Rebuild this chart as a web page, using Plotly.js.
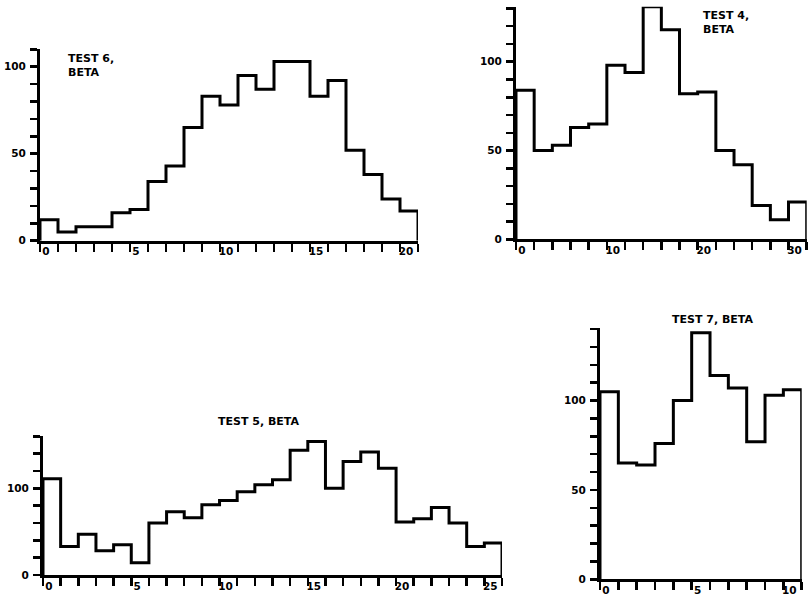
<!DOCTYPE html>
<html>
<head>
<meta charset="utf-8">
<script src="https://cdn.plot.ly/plotly-3.0.1.min.js"></script>
<style>html,body{margin:0;padding:0;background:#fff;}#chart{width:812px;height:599px;}</style>
</head>
<body>
<div id="chart"></div>
<script>
// ---- data ----
// TEST 6, BETA (bins of width 1, starting at 0)
const test6Bins = [0,1,2,3,4,5,6,7,8,9,10,11,12,13,14,15,16,17,18,19,20];
const test6Counts = [12,5,8,8,16,18,34,43,65,83,78,95,87,103,103,83,92,52,38,24,17];
// TEST 4, BETA (bins of width 2)
const test4Bins = [0,2,4,6,8,10,12,14,16,18,20,22,24,26,28,30];
const test4Counts = [84,50,53,63,65,98,94,131,118,82,83,50,42,19,11,21];
// TEST 5, BETA (bins of width 1)
const test5Bins = [0,1,2,3,4,5,6,7,8,9,10,11,12,13,14,15,16,17,18,19,20,21,22,23,24,25];
const test5Counts = [111,33,47,28,35,14,60,73,66,81,86,96,104,110,144,154,100,131,142,123,61,65,78,60,33,37];
// TEST 7, BETA (bins of width 1)
const test7Bins = [0,1,2,3,4,5,6,7,8,9,10];
const test7Counts = [105,65,64,76,100,138,114,107,77,103,106];

// tick labels
const test6XLabels = [0,5,10,15,20];
const test6YLabels = [0,50,100];
const test4XLabels = [0,10,20,30];
const test4YLabels = [0,50,100];
const test5XLabels = [0,5,10,15,20,25];
const test5YLabels = [0,100];
const test7XLabels = [0,5,10];
const test7YLabels = [0,50,100];

const titles = ["TEST 6,<br>BETA","TEST 4,<br>BETA","TEST 5, BETA","TEST 7, BETA"];

// ---- helpers ----
function stepTrace(bins, counts, xa, ya){
  const w = bins.length > 1 ? bins[1]-bins[0] : 1;
  const x = [bins[0]], y = [0];
  for (let i=0;i<bins.length;i++){ x.push(bins[i]); y.push(counts[i]); }
  const end = bins[bins.length-1] + w;
  x.push(end); y.push(counts[counts.length-1]);
  x.push(end); y.push(0);
  return {x:x, y:y, type:'scatter', mode:'lines', line:{shape:'hv', color:'#000', width:3},
          xaxis:xa, yaxis:ya, hoverinfo:'skip', showlegend:false};
}
function ticks(from, to, step, labels){
  const vals=[], text=[];
  for (let v=from; v<=to+1e-9; v+=step){ vals.push(v); text.push(labels.indexOf(v)>=0 ? String(v) : ''); }
  return {tickmode:'array', tickvals:vals, ticktext:text};
}
const W=812, H=599;
const font = {family:'DejaVu Sans, Arial, sans-serif', size:10.5, color:'#000', weight:'bold'};
function xAxis(px0, px1, range, t, anchor){
  return Object.assign({domain:[px0/W, px1/W], range:range, anchor:anchor, showline:true, linewidth:3, linecolor:'#000',
    ticks:'outside', ticklen:8, tickwidth:2.5, tickcolor:'#000', showgrid:false, zeroline:false,
    tickfont:font, ticklabelshift:6, ticklabelstandoff:-9, fixedrange:true}, t);
}
function yAxis(py0, py1, range, t, anchor){
  return Object.assign({domain:[1-py0/H, 1-py1/H], range:range, anchor:anchor, showline:true, linewidth:3, linecolor:'#000',
    ticks:'outside', ticklen:7, tickwidth:2.5, tickcolor:'#000', showgrid:false, zeroline:false,
    tickfont:font, ticklabelstandoff:2, fixedrange:true}, t);
}

const data = [
  stepTrace(test6Bins, test6Counts, 'x', 'y'),
  stepTrace(test4Bins, test4Counts, 'x2', 'y2'),
  stepTrace(test5Bins, test5Counts, 'x3', 'y3'),
  stepTrace(test7Bins, test7Counts, 'x4', 'y4')
];

const tfont = {family:font.family, size:11, color:'#000', weight:'bold'};
const layout = {
  width:W, height:H, margin:{l:0,r:0,t:0,b:0}, paper_bgcolor:'#fff', plot_bgcolor:'rgba(0,0,0,0)',
  showlegend:false, font:font,
  xaxis:  xAxis(40, 418, [0,21], ticks(0,21,1,test6XLabels), 'y'),
  yaxis:  yAxis(240.7, 49.3, [0,110], ticks(0,110,10,test6YLabels), 'x'),
  xaxis2: xAxis(516, 806.7, [0,32], ticks(0,32,2,test4XLabels), 'y2'),
  yaxis2: yAxis(239.3, 6.7, [0,131], ticks(0,130,10,test4YLabels), 'x2'),
  xaxis3: xAxis(43, 502, [0,26], ticks(0,26,1,test5XLabels), 'y3'),
  yaxis3: yAxis(575, 436.3, [0,160], ticks(0,160,20,test5YLabels), 'x3'),
  xaxis4: xAxis(600, 801.7, [0,11], ticks(0,11,1,test7XLabels), 'y4'),
  yaxis4: yAxis(579.3, 328, [0,140.6], ticks(0,140,10,test7YLabels), 'x4'),
  annotations: [
    {text:titles[0], xref:'paper', yref:'paper', x:66/W, y:1-50/H, xanchor:'left', yanchor:'top', align:'left', showarrow:false, font:tfont},
    {text:titles[1], xref:'paper', yref:'paper', x:701/W, y:1-7/H, xanchor:'left', yanchor:'top', align:'left', showarrow:false, font:tfont},
    {text:titles[2], xref:'paper', yref:'paper', x:258/W, y:1-421/H, xanchor:'center', yanchor:'middle', showarrow:false, font:tfont},
    {text:titles[3], xref:'paper', yref:'paper', x:712/W, y:1-319/H, xanchor:'center', yanchor:'middle', showarrow:false, font:tfont}
  ]
};

Plotly.newPlot('chart', data, layout, {displayModeBar:false, staticPlot:true});
</script>
</body>
</html>
